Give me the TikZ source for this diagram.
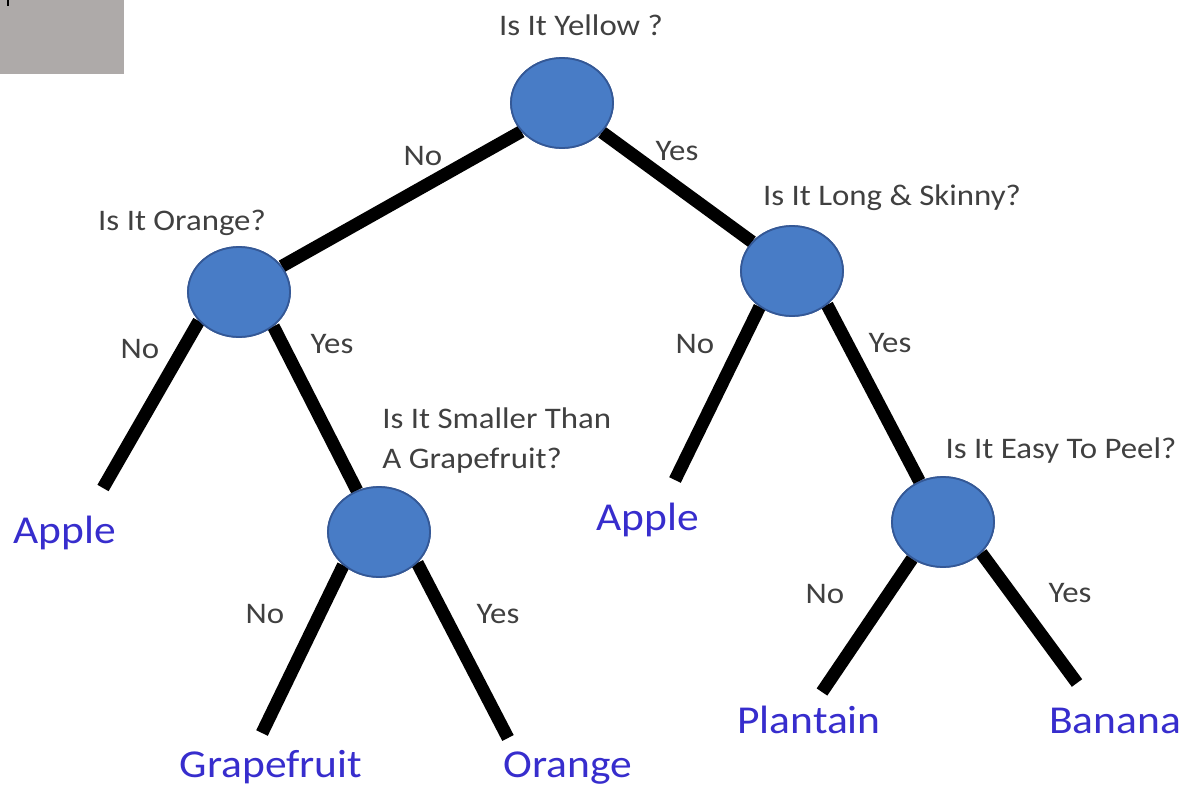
\documentclass[tikz,border=0pt]{standalone}
\usepackage{fontspec}
\setmainfont[FakeStretch=1.1]{Carlito}
\usetikzlibrary{shapes.geometric}

\definecolor{qgray}{RGB}{64,64,64}
\definecolor{leafblue}{RGB}{55,45,205}
\definecolor{ballfill}{RGB}{72,124,198}
\definecolor{ballline}{RGB}{52,88,150}
\definecolor{boxgray}{RGB}{174,170,169}

\tikzset{
  ball/.style={ellipse,fill=ballfill,draw=ballline,line width=1pt,
    minimum width=2.04cm,minimum height=1.8cm,inner sep=0pt},
  branch/.style={line width=7.3pt,black},
  quest/.style={font=\fontsize{17}{22.7}\selectfont,text=qgray,anchor=base,inner sep=0pt},
  ans/.style={font=\fontsize{17}{20}\selectfont,text=qgray,anchor=base,inner sep=0pt},
  fruit/.style={font=\fontsize{22.5}{26}\selectfont,text=leafblue,anchor=base,inner sep=0pt}
}

\begin{document}
\begin{tikzpicture}[x=0.02cm,y=-0.02cm]

\useasboundingbox (0,0) rectangle (1188,789);

%Riquadro grigio

\fill[boxgray] (0,0) rectangle (124,74);
\draw[line width=1.1pt] (8,0) -- (8,6);

%Nodi

\node[ball] (yel) at (562,103) {};
\node[ball] (org) at (239,292) {};
\node[ball] (lng) at (792,271) {};
\node[ball] (sml) at (379,532) {};
\node[ball] (esy) at (943,522) {};

\coordinate (appL) at (103,488);
\coordinate (appM) at (675,480);
\coordinate (grp) at (262,733);
\coordinate (orn) at (508,738);
\coordinate (pln) at (822,692);
\coordinate (ban) at (1077,683);

%Rami

\draw[branch] (yel.215) -- (org.31);
\draw[branch] (yel) -- (lng);
\draw[branch] (org.216) -- (appL);
\draw[branch] (org.315) -- (sml.118);
\draw[branch] (lng.228) -- (appM);
\draw[branch] (lng.316) -- (esy.120);
\draw[branch] (sml.223) -- (grp);
\draw[branch] (sml.321) -- (orn);
\draw[branch] (esy.230) -- (pln);
\draw[branch] (esy.321) -- (ban);

%Palle sopra i rami

\node[ball] at (yel) {};
\node[ball] at (org) {};
\node[ball] at (lng) {};
\node[ball] at (sml) {};
\node[ball] at (esy) {};

%Domande

\node[quest] (qyel) at (581,35) {Is It Yellow ?};
\node[quest] (qorg) at (182,230) {Is It Orange?};
\node[quest] (qlng) at (892,205) {Is It Long \& Skinny?};
\node[quest,anchor=base west,align=left] (qsml) at (382,468) {Is It Smaller Than\\A Grapefruit?};
\node[quest] (qesy) at (1061,458) {Is It Easy To Peel?};

%Risposte

\node[ans] (n1) at (423,165) {No};
\node[ans] (y1) at (677,160) {Yes};
\node[ans] (n2) at (140,358) {No};
\node[ans] (y2) at (332,353) {Yes};
\node[ans] (n3) at (695,353) {No};
\node[ans] (y3) at (890,352) {Yes};
\node[ans] (n4) at (265,623) {No};
\node[ans] (y4) at (498,623) {Yes};
\node[ans] (n5) at (825,603) {No};
\node[ans] (y5) at (1070,602) {Yes};

%Frutti

\node[fruit] (fappL) at (65,543) {Apple};
\node[fruit] (fappM) at (648,530) {Apple};
\node[fruit] (fgrp) at (271,777) {Grapefruit};
\node[fruit] (forn) at (568,777) {Orange};
\node[fruit] (fpln) at (809,733) {Plantain};
\node[fruit] (fban) at (1115,733) {Banana};

\end{tikzpicture}
\end{document}
